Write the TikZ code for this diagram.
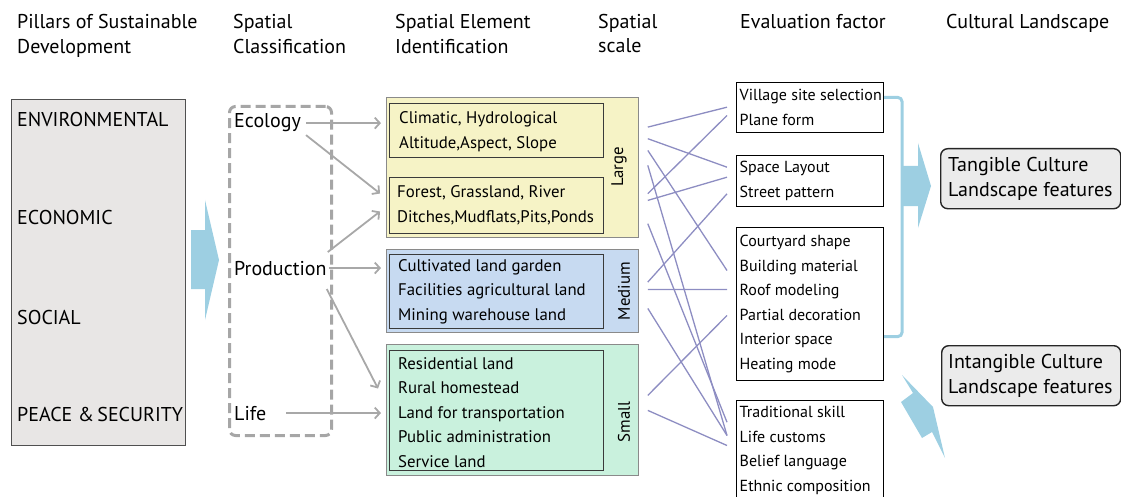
\documentclass[tikz,border=0pt]{standalone}
\usepackage{fontspec}
\setmainfont{PT Sans}
\usetikzlibrary{arrows.meta,calc}
\definecolor{pillarfill}{HTML}{E8E6E5}
\definecolor{pillarline}{HTML}{505050}
\definecolor{arrowblue}{HTML}{9DCFE2}
\definecolor{dashgray}{HTML}{A6A6A6}
\definecolor{arrgray}{HTML}{A8A8A8}
\definecolor{largefill}{HTML}{F6F3C6}
\definecolor{medfill}{HTML}{C7DAF1}
\definecolor{smallfill}{HTML}{C9F1DD}
\definecolor{outerline}{HTML}{8A8A8A}
\definecolor{innerline}{HTML}{3A3A3A}
\definecolor{linkpurple}{HTML}{8D8DC2}
\definecolor{culturefill}{HTML}{EBEBEB}
\newcommand\hdrfont{\fontsize{20}{25}\selectfont}
\newcommand\bodyfont{\fontsize{16.8}{24.5}\selectfont}
\newcommand\evfont{\fontsize{16}{24.5}\selectfont}
\begin{document}
\begin{tikzpicture}[x=1pt,y=-1pt,
  hdr/.style={font=\hdrfont, anchor=base west, inner sep=0pt},
  bigtext/.style={font=\hdrfont, anchor=base west, inner sep=2pt},
  boxtext/.style={font=\bodyfont, align=left, anchor=west, inner sep=0pt},
  evtext/.style={font=\evfont, align=left, anchor=west, inner sep=0pt},
  bigboxtext/.style={font=\hdrfont, align=left, anchor=west, inner sep=0pt},
  outerbox/.style={draw=outerline, line width=0.8pt, anchor=north west, inner sep=0pt},
  innerbox/.style={draw=innerline, line width=1pt, anchor=north west, inner sep=0pt},
  evbox/.style={draw=black, fill=white, line width=1pt, anchor=north west, inner sep=0pt, minimum width=147},
  culbox/.style={draw=black!85, fill=culturefill, line width=1.4pt, rounded corners=7pt, anchor=north west, inner sep=0pt},
  scalelabel/.style={font=\bodyfont, rotate=90, inner sep=0pt},
  garrow/.style={draw=arrgray, line width=1.8pt, -{Straight Barb[length=5pt,width=11pt]}},
  link/.style={draw=linkpurple, line width=1.3pt}
]
\useasboundingbox (0,0) rectangle (1121,497);
\clip (0,0) rectangle (1121,497);

% headers
\node[hdr] (h1a) at (17,29) {Pillars of Sustainable};
\node[hdr] (h1b) at (17,54) {Development};
\node[hdr] (h2a) at (233,29) {Spatial};
\node[hdr] (h2b) at (233,54) {Classification};
\node[hdr] (h3a) at (395,29) {Spatial Element};
\node[hdr] (h3b) at (395,54) {Identification};
\node[hdr] (h4a) at (598,29) {Spatial};
\node[hdr] (h4b) at (598,53) {scale};
\node[hdr] (h5) at (740,29) {Evaluation factor};
\node[hdr] (h6) at (946,29) {Cultural Landscape};

% pillars
\node[draw=pillarline, fill=pillarfill, line width=1.2pt, anchor=north west, inner sep=0pt,
      minimum width=174, minimum height=346] (pillars) at (11,99) {};
\node[bigtext] (env) at (15,127) {ENVIRONMENTAL};
\node[bigtext] (eco2) at (15,225) {ECONOMIC};
\node[bigtext] (soc) at (15,324) {SOCIAL};
\node[bigtext] (peace) at (15,421) {PEACE \&\,SECURITY};

% big blue arrow
\fill[arrowblue] (191,230) -- (205,230) -- (205,200) -- (219,260) -- (205,320) -- (205,289) -- (191,289) -- cycle;

% classification
\node[draw=dashgray, line width=3pt, dash pattern=on 10pt off 5pt, rounded corners=6pt,
      anchor=north west, inner sep=0pt, minimum width=102, minimum height=329] (cls) at (228,105) {};
\node[bigtext] (eco) at (232,128) {Ecology};
\node[bigtext] (prod) at (232,275) {Production};
\node[bigtext] (life) at (232,420) {Life};

% spatial element boxes
\node[outerbox, fill=largefill, minimum width=252, minimum height=140] (large) at (386,97) {};
\node[outerbox, fill=medfill, minimum width=252, minimum height=83] (medium) at (386,249) {};
\node[outerbox, fill=smallfill, minimum width=252, minimum height=131] (small) at (386,344) {};
\node[innerbox, minimum width=214, minimum height=54] (clim) at (389,103) {};
\node[innerbox, minimum width=214, minimum height=56] (forest) at (389,177) {};
\node[innerbox, minimum width=214, minimum height=74] (medin) at (389,254) {};
\node[innerbox, minimum width=214, minimum height=120] (smin) at (389,350) {};
\node[boxtext] (tclim) at ($(clim.west)+(10,1)$) {Climatic, Hydrological\\Altitude,Aspect, Slope};
\node[boxtext] (tforest) at ($(forest.west)+(8,0)$) {Forest, Grassland, River\\Ditches,Mudflats,Pits,Ponds};
\node[boxtext] (tmed) at ($(medin.west)+(9,0)$) {Cultivated land garden\\Facilities agricultural land\\Mining warehouse land};
\node[boxtext] (tsmall) at ($(smin.west)+(9,2)$) {Residential land\\Rural homestead\\Land for transportation\\Public administration\\Service land};
\node[scalelabel] (lg) at (619,167) {Large};
\node[scalelabel] (md) at (624,291) {Medium};
\node[scalelabel] (sm) at (624,422) {Small};

% gray arrows
\draw[garrow] ($(eco.east)+(3,0)$) -- ($(eco.east -| clim.west)+(-8,0)$);
\draw[garrow] ($(eco.east)+(3,12)$) -- ($(forest.west)+(-9,-12)$);
\draw[garrow] ($(prod.east)+(-1,-16)$) -- ($(forest.west)+(-9,6)$);
\draw[garrow] (prod.east) -- ($(prod.east -| medin.west)+(-8,0)$);
\draw[garrow] ($(prod.east)+(-2,21)$) -- ($(smin.west)+(-11,-22)$);
\draw[garrow] ($(life.east)+(18,0)$) -- ($(life.east -| smin.west)+(-8,0)$);

% evaluation factor boxes
\node[evbox, minimum height=50] (ev1) at (736,82) {};
\node[evbox, minimum height=51] (ev2) at (736,155) {};
\node[evbox, minimum height=153] (ev3) at (736,227) {};
\node[evbox, minimum height=100] (ev4) at (736,400) {};
\node[evtext] (tev1) at ($(ev1.west)+(3.5,0)$) {Village site selection\\Plane form};
\node[evtext] (tev2) at ($(ev2.west)+(3.5,0)$) {Space Layout\\Street pattern};
\node[evtext] (tev3) at ($(ev3.west)+(3.5,0)$) {Courtyard shape\\Building material\\Roof modeling\\Partial decoration\\Interior space\\Heating mode};
\node[evtext] (tev4) at ($(ev4.west)+(3.5,0)$) {Traditional skill\\Life customs\\Belief language\\Ethnic composition};

% purple links
\draw[link] ($(large.east)+(9,-40.3)$) -- ($(ev1.west)+(-9,-0.3)$);
\draw[link] ($(large.east)+(9,-28.7)$) -- ($(ev2.west)+(-9,-13.8)$);
\draw[link] ($(large.east)+(9,-17)$) -- ($(ev3.west)+(-9,-33.5)$);
\draw[link] ($(large.east)+(9,-2)$) -- ($(ev4.west)+(-9,-15)$);
\draw[link] ($(large.east)+(9,26.3)$) -- ($(ev1.west)+(-9,8)$);
\draw[link] ($(large.east)+(9,33)$) -- ($(ev2.west)+(-9,-3.8)$);
\draw[link] ($(large.east)+(9,56.3)$) -- ($(ev4.west)+(-9,-28.3)$);
\draw[link] ($(medium.east)+(9,-8.8)$) -- ($(ev2.west)+(-9,12.8)$);
\draw[link] ($(medium.east)+(9,-1.5)$) -- ($(ev3.west)+(-9,-14.5)$);
\draw[link] ($(medium.east)+(9,17.5)$) -- ($(ev4.west)+(-9,-15)$);
\draw[link] ($(small.east)+(9,-14.5)$) -- ($(ev3.west)+(-9,11.5)$);
\draw[link] ($(small.east)+(9,0.5)$) -- ($(ev4.west)+(-9,-5)$);

% bracket
\draw[arrowblue, line width=3pt, rounded corners=4pt] ($(ev1.east)+(0,-10)$) -- ++(18,0) |- ($(ev3.east)+(0,32.5)$);

% cultural landscape arrows
\fill[arrowblue] (901,166) -- (918,166) -- (918,143) -- (931,186) -- (918,228) -- (918,206) -- (901,206) -- cycle;
\fill[arrowblue] (902,375) -- (933,407) -- (945,458) -- (932,432) -- (922,438) -- (901,402) -- (913,393) -- cycle;

% cultural landscape boxes
\node[culbox, minimum width=180, minimum height=60] (tang) at (940,148) {};
\node[culbox, minimum width=179, minimum height=60] (intang) at (941,345) {};
\node[bigboxtext] (ttang) at ($(tang.west)+(8,0)$) {Tangible Culture\\Landscape features};
\node[bigboxtext] (tintang) at ($(intang.west)+(7,0)$) {Intangible Culture\\Landscape features};
\end{tikzpicture}
\end{document}
